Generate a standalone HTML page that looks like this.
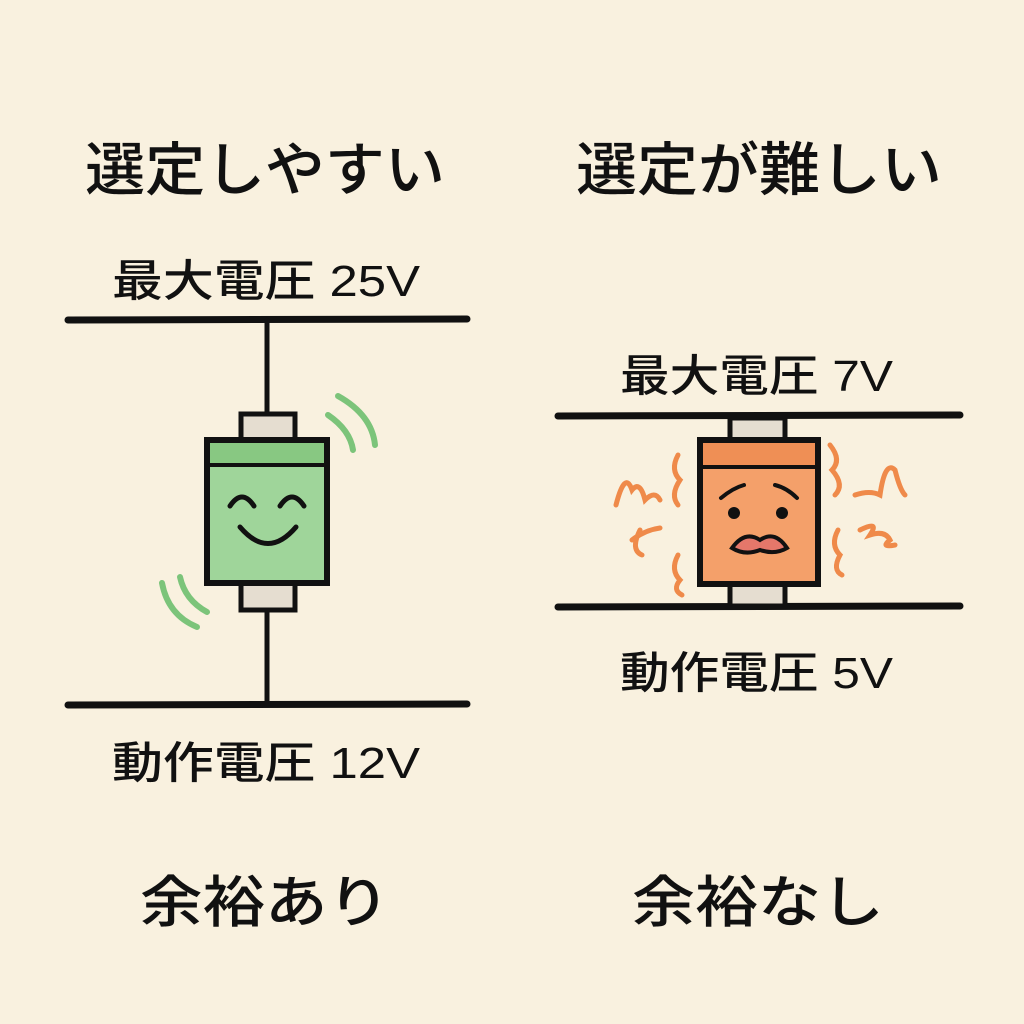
<!DOCTYPE html>
<html><head><meta charset="utf-8"><style>html,body{margin:0;padding:0;background:#f9f1df}svg{display:block}text{font-family:"Liberation Sans","Noto Sans CJK JP",sans-serif;font-weight:500;fill:#111}</style></head>
<body>
<svg width="1024" height="1024" viewBox="0 0 1024 1024" xmlns="http://www.w3.org/2000/svg">
<rect width="1024" height="1024" fill="#f9f1df"/>
<text x="85" y="190" font-size="58" textLength="360" lengthAdjust="spacingAndGlyphs">選定しやすい</text>
<text x="576" y="190" font-size="58" textLength="366" lengthAdjust="spacingAndGlyphs">選定が難しい</text>
<text x="112" y="296" font-size="44" textLength="308" lengthAdjust="spacingAndGlyphs">最大電圧 25V</text>
<text x="620" y="391" font-size="44" textLength="273" lengthAdjust="spacingAndGlyphs">最大電圧 7V</text>
<text x="620" y="688" font-size="44" textLength="273" lengthAdjust="spacingAndGlyphs">動作電圧 5V</text>
<text x="112" y="778" font-size="44" textLength="308" lengthAdjust="spacingAndGlyphs">動作電圧 12V</text>
<text x="140" y="922" font-size="56" textLength="250" lengthAdjust="spacingAndGlyphs">余裕あり</text>
<text x="632" y="922" font-size="56" textLength="252" lengthAdjust="spacingAndGlyphs">余裕なし</text>
<g stroke="#111" stroke-linecap="round" fill="none">
<line x1="68" y1="320" x2="467" y2="319" stroke-width="7"/>
<line x1="68" y1="705" x2="467" y2="704" stroke-width="7"/>
<line x1="267" y1="320" x2="267" y2="413" stroke-width="5"/>
<line x1="267" y1="610" x2="267" y2="705" stroke-width="5"/>
<line x1="558" y1="416" x2="960" y2="415" stroke-width="7"/>
<line x1="558" y1="607" x2="960" y2="606" stroke-width="7"/>
</g>
<!-- green -->
<rect x="241" y="414" width="54" height="28" fill="#e5ddd0" stroke="#111" stroke-width="5"/>
<rect x="241" y="582" width="54" height="28" fill="#e5ddd0" stroke="#111" stroke-width="5"/>
<rect x="207" y="440" width="120" height="143" fill="#9fd59a" stroke="#111" stroke-width="6"/>
<rect x="210" y="443" width="114" height="22" fill="#88c882"/>
<line x1="207" y1="465" x2="327" y2="465" stroke="#111" stroke-width="4"/>
<g stroke="#111" stroke-width="5" fill="none" stroke-linecap="round">
<path d="M230 506 Q242 488 254 506"/><path d="M280 506 Q292 488 304 506"/>
<path d="M240 527 Q268 560 296 527"/>
</g>
<g stroke="#7cc47a" stroke-width="6" fill="none" stroke-linecap="round">
<path d="M328 415 Q350 430 353 450"/><path d="M338 396 Q372 415 375 445"/>
<path d="M180 577 Q185 600 207 612"/><path d="M162 583 Q168 615 197 627"/>
</g>
<!-- orange -->
<rect x="730" y="418" width="55" height="24" fill="#e5ddd0" stroke="#111" stroke-width="5"/>
<rect x="730" y="582" width="55" height="24" fill="#e5ddd0" stroke="#111" stroke-width="5"/>
<rect x="700" y="440" width="118" height="144" fill="#f4a06a" stroke="#111" stroke-width="6"/>
<rect x="703" y="443" width="112" height="24" fill="#ef8f55"/>
<line x1="700" y1="467" x2="818" y2="467" stroke="#111" stroke-width="4"/>
<g stroke="#111" stroke-width="4" fill="none" stroke-linecap="round">
<path d="M721 498 Q733 488 744 485"/><path d="M775 485 Q787 488 797 498"/>
</g>
<circle cx="734" cy="513" r="6" fill="#111"/><circle cx="782" cy="513" r="6" fill="#111"/>
<path d="M732 548 Q745 530 760 540 Q775 530 787 548 Q775 555 760 550 Q745 556 732 548Z" fill="#e5776a" stroke="#111" stroke-width="4"/>
<g stroke="#ef8a4a" stroke-width="5" fill="none" stroke-linecap="round">
<path d="M616 505 Q625 470 632 490 Q640 480 645 500 Q655 490 660 500"/>
<path d="M632 540 Q645 530 660 528 M640 530 Q630 550 642 555"/>
<path d="M678 455 Q670 470 680 480 Q670 495 678 505"/>
<path d="M678 555 Q670 570 680 580 Q672 590 682 595"/>
<path d="M830 445 Q842 460 832 470 Q845 485 835 495"/>
<path d="M838 530 Q830 545 840 555 Q832 570 842 575"/>
<path d="M855 495 Q870 490 880 495 Q885 460 895 470 Q900 490 905 495"/>
<path d="M860 530 Q880 520 870 535 Q885 530 890 540 Q880 548 895 545"/>
</g>
</svg>
</body></html>
